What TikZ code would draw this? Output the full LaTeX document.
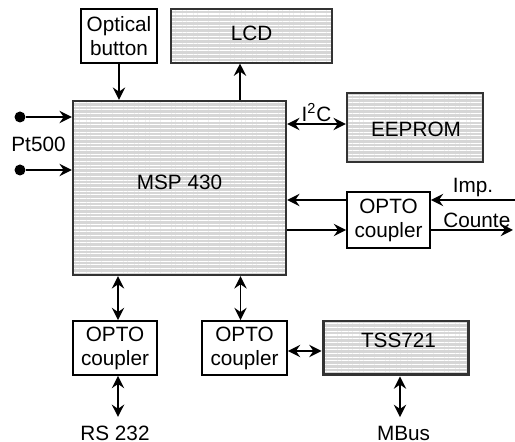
\documentclass[tikz,border=0pt]{standalone}
\usepackage{fontspec}
\setmainfont{Liberation Sans}
\usetikzlibrary{arrows.meta, patterns.meta}
\newcommand{\blockfont}{\fontsize{11.8}{13.6}\selectfont}
\tikzset{every path/.style={line width=1.1pt}}
\tikzset{
  >={Stealth[length=7pt,width=7pt,inset=2.4pt]},
  block/.style={draw, align=center, inner sep=0pt, line width=1pt, font=\blockfont},
  chip/.style={block, draw=black!80, line width=1.4pt, preaction={fill=black!16},
    pattern={Lines[angle=0,distance=2.1pt,line width=0.6pt]}, pattern color=white},
  pin/.style={circle, fill, inner sep=0pt, minimum size=0.22cm},
  tag/.style={font=\blockfont, inner sep=1pt},
}

\begin{document}
\begin{tikzpicture}[x=0.02cm, y=-0.02cm]
    \useasboundingbox (0,0) rectangle (515,442);

    % top row
    \node[block, minimum width=1.52cm, minimum height=1.08cm] (btn) at (119,36) {Optical\\button};
    \node[chip, minimum width=3.22cm, minimum height=1.08cm] (lcd) at (251.5,36) {};
    \node[tag] (lcdtext) at (251.5,33) {LCD};

    % controller
    \node[chip, minimum width=4.26cm, minimum height=3.48cm] (msp) at (179.5,188) {};
    \node[tag] (msptext) at (179.5,182) {MSP 430};
    \node[chip, minimum width=2.72cm, minimum height=1.38cm] (eeprom) at (415,127.5) {};
    \node[tag] (eepromtext) at (416,129) {EEPROM};
    \node[block, minimum width=1.66cm, minimum height=1.12cm] (optoR) at (388.5,220) {OPTO\\coupler};

    \draw[->] (btn.south) -- (btn.south |- msp.north);
    \draw[->] ([xshift=-0.23cm]msp.north -| lcd.south) -- ([xshift=-0.23cm]lcd.south);
    \draw[<->] ([yshift=0.07cm]eeprom.west -| msp.east) -- node[tag, above] {I\textsuperscript{2}C} ([yshift=0.07cm]eeprom.west);
    \draw[->] ([yshift=0.4cm]optoR.west) -- ([yshift=0.4cm]optoR.west -| msp.east);
    \draw[->] ([yshift=-0.2cm]optoR.west -| msp.east) -- ([yshift=-0.2cm]optoR.west);

    \coordinate (imp) at (515,200);
    \coordinate (cnt) at (513,230);
    \draw[->] (imp) -- node[tag, above] {Imp.} (imp -| optoR.east);
    \draw[->] (cnt -| optoR.east) -- node[tag, above right, pos=0.12] {Counte} (cnt);

    % Pt500 inputs
    \node[pin] (pinA) at (20,117) {};
    \node[pin] (pinB) at (20,170) {};
    \draw[->] (pinA) -- (pinA -| msp.west);
    \draw[->] (pinB) -- (pinB -| msp.west);
    \node[tag] (pt) at (38.5,144) {Pt500};

    % bottom row
    \node[block, minimum width=1.68cm, minimum height=1.08cm] (optoA) at (115,348) {OPTO\\coupler};
    \node[block, minimum width=1.70cm, minimum height=1.08cm] (optoB) at (244.5,348) {OPTO\\coupler};
    \node[chip, line width=1.7pt, minimum width=2.92cm, minimum height=1.08cm] (tss) at (396,348) {};
    \node[tag] (tsstext) at (398.5,340) {TSS721};
    \node[tag] (rs) at (115,433) {RS 232};
    \node[tag] (mbus) at (403.5,433) {MBus};

    \draw[<->] ([xshift=0.06cm]msp.south -| optoA.north) -- ([xshift=0.06cm]optoA.north);
    \draw[<->] ([xshift=-0.08cm]msp.south -| optoB.north) -- ([xshift=-0.08cm]optoB.north);
    \draw[<->] ([yshift=-0.06cm]optoB.east) -- ([yshift=-0.06cm]optoB.east -| tss.west);
    \draw[<->] ([xshift=0.06cm]optoA.south) -- ([xshift=0.06cm,yshift=0.12cm]optoA.south |- rs.north);
    \draw[<->] ([xshift=0.08cm]tss.south) -- ([xshift=0.08cm,yshift=0.12cm]tss.south |- mbus.north);
\end{tikzpicture}
\end{document}
